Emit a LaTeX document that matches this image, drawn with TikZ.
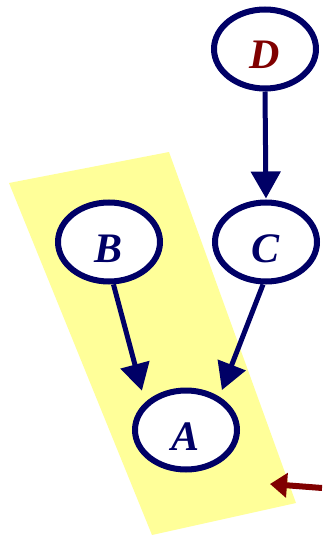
\documentclass[tikz,border=0pt]{standalone}
\usepackage{fontspec}
\setmainfont{Liberation Serif}
\usepackage{tikz}
\usetikzlibrary{arrows.meta,shapes.geometric}
\usepackage{xcolor}
\definecolor{inknavy}{RGB}{0,0,102}
\definecolor{inkred}{RGB}{128,0,0}
\definecolor{markyellow}{RGB}{255,255,153}

\begin{document}
\begin{tikzpicture}[x=1pt, y=-1pt,
    var/.style={ellipse, draw=inknavy, line width=6pt, fill=white,
      minimum width=102pt, minimum height=79pt, inner sep=0pt,
      text=inknavy, font=\fontsize{42}{50}\selectfont\bfseries\itshape,
      text height=40pt, text depth=0pt},
    edge/.style={draw=inknavy, line width=5pt,
      -{Triangle[width=29pt,length=27pt]}},
    pointer/.style={draw=inkred, line width=6pt,
      -{Triangle[width=24pt,length=17pt]}}]
    \useasboundingbox (0,0) rectangle (322,535);
    % highlighted region
    \fill[markyellow] (9,183) -- (169,152) -- (296,503) -- (152,535) -- cycle;
    % variables
    \node[var, text=inkred] (d) at (265,49) {D};
    \node[var] (c) at (266,242) {C};
    \node[var] (b) at (109,242) {B};
    \node[var] (a) at (186,430) {A};
    % dependencies
    \draw[edge, shorten >=1pt] (d.south) -- (c.north);
    \draw[edge, shorten >=12pt] (b.-84) -- (a.146);
    \draw[edge, shorten >=7pt] (c.-94) -- (a.45);
    % marker
    \coordinate (ptrtail) at (322,488);
    \coordinate (ptrtip) at (270,484);
    \draw[pointer] (ptrtail) -- (ptrtip);
  \end{tikzpicture}
\end{document}
